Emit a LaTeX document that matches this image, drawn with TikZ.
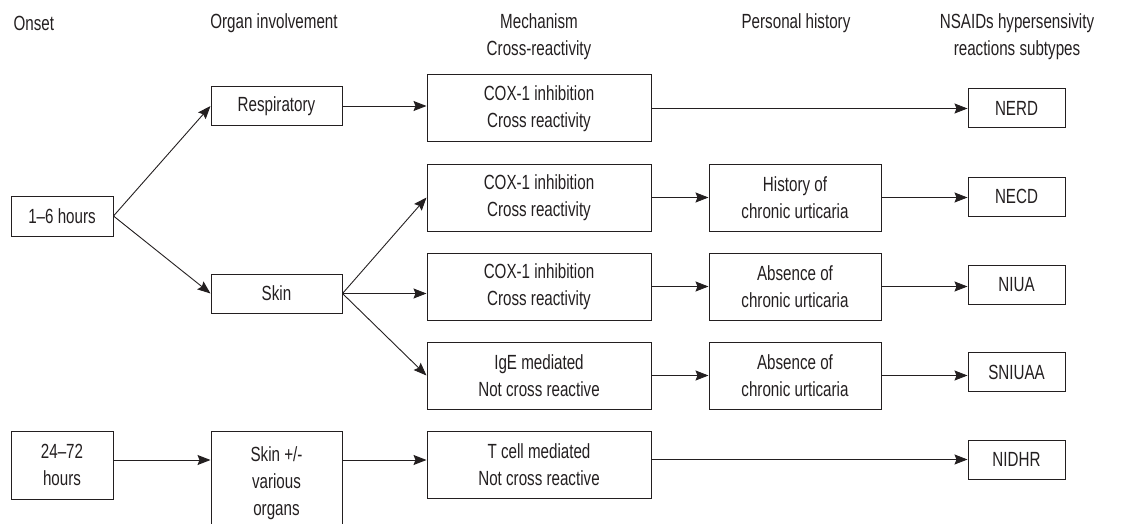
\documentclass[tikz,border=0pt]{standalone}
\usepackage{fontspec}
\setmainfont[FakeStretch=0.74]{Liberation Sans}
\usepackage{tikz}
\usetikzlibrary{arrows.meta}
\definecolor{ink}{HTML}{231F20}
\tikzset{
	box/.style 2 args={draw=ink,line width=1pt,align=center,inner sep=0pt,minimum width=#1,minimum height=#2},
	head/.style={align=center,text=ink},
	arr/.style={draw=ink,line width=0.9pt,-{Stealth[length=13pt,width=10pt,inset=2pt]}}
}

\begin{document}
\begin{tikzpicture}[x=1pt,y=-1pt,font=\fontsize{20.5}{27}\selectfont,text=ink]
						\clip (0,0) rectangle (1148,524);
						\node [head,anchor=west] (hOnset) at (10,23) {Onset};
						\node [head] (hOrgan) at (274,23) {Organ involvement};
						\node [head] (hMech) at (539,36.5) {Mechanism\\Cross-reactivity};
						\node [head] (hHist) at (796,23) {Personal history};
						\node [head] (hSub) at (1017,36.5) {NSAIDs hypersensivity\\reactions subtypes};
						
						\node [box={102pt}{40pt}] (on1) at (62,216) {1--6 hours};
						\node [box={102pt}{68pt}] (on2) at (62,465) {24--72\\hours};
						
						\node [box={131pt}{39pt}] (resp) at (276.5,106) {Respiratory};
						\node [box={131pt}{39pt}] (skin) at (276.5,293.5) {Skin};
						\node [box={131pt}{104pt},anchor=north] (skinv) at (276.5,431) {Skin +/-\\various\\organs};
						
						\node [box={224pt}{67pt}] (cox1) at (539,108.5) {COX-1 inhibition\\Cross reactivity};
						\node [box={224pt}{67pt}] (cox2) at (539,197.5) {COX-1 inhibition\\Cross reactivity};
						\node [box={224pt}{67pt}] (cox3) at (539,286.5) {COX-1 inhibition\\Cross reactivity};
						\node [box={224pt}{67pt}] (ige) at (539,375.5) {IgE mediated\\Not cross reactive};
						\node [box={224pt}{67pt}] (tcell) at (539,465) {T cell mediated\\Not cross reactive};
						
						\node [box={172pt}{67pt}] (hist) at (795,197.5) {History of\\chronic urticaria};
						\node [box={172pt}{67pt}] (abs1) at (795,286.5) {Absence of\\chronic urticaria};
						\node [box={172pt}{67pt}] (abs2) at (795,375.5) {Absence of\\chronic urticaria};
						
						\node [box={97pt}{39pt}] (nerd) at (1016.5,108.5) {NERD};
						\node [box={97pt}{39pt}] (necd) at (1016.5,196.5) {NECD};
						\node [box={97pt}{39pt}] (niua) at (1016.5,284.5) {NIUA};
						\node [box={97pt}{39pt}] (sniuaa) at (1016.5,372) {SNIUAA};
						\node [box={97pt}{39pt}] (nidhr) at (1016.5,459.5) {NIDHR};
						
						\draw [arr] (on1.east) -- (resp.west);
						\draw [arr] (on1.east) -- (skin.west);
						\draw [arr] (resp.east) -- (resp.east -| cox1.west);
						\draw [arr] (skin.east) -- (cox2.west);
						\draw [arr] (skin.east) -- (skin.east -| cox3.west);
						\draw [arr] (skin.east) -- (ige.west);
						\draw [arr] (on2.east |- 0,460) -- (skinv.west |- 0,460);
						\draw [arr] (skinv.east |- 0,460) -- (tcell.west |- 0,460);
						
						\draw [arr] (cox1.east) -- (cox1.east -| nerd.west);
						\draw [arr] (cox2.east) -- (hist.west);
						\draw [arr] (cox3.east) -- (abs1.west);
						\draw [arr] (ige.east) -- (abs2.west);
						\draw [arr] (tcell.east |- nidhr.west) -- (nidhr.west);
						
						\draw [arr] (hist.east) -- (hist.east -| necd.west);
						\draw [arr] (abs1.east) -- (abs1.east -| niua.west);
						\draw [arr] (abs2.east) -- (abs2.east -| sniuaa.west);
					\end{tikzpicture}
\end{document}
